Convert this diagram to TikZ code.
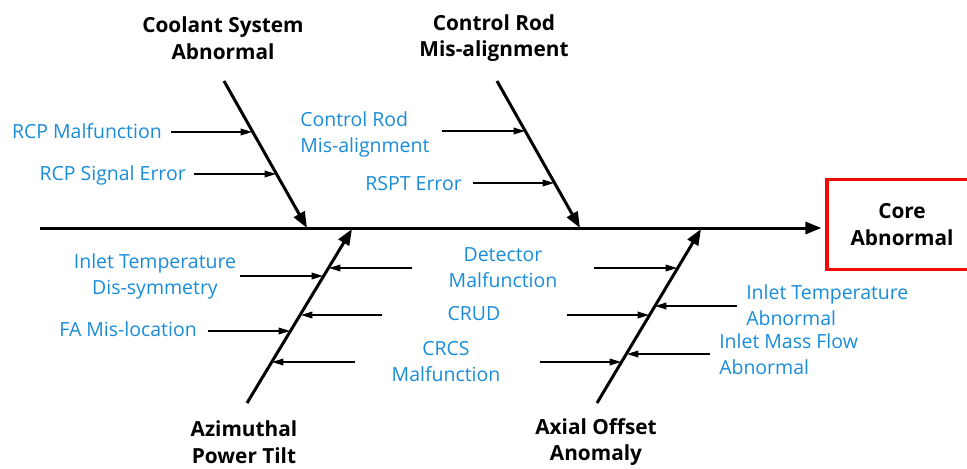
\documentclass[tikz,border=0pt]{standalone}
\usepackage{fontspec}
\setmainfont{Open Sans}
\usetikzlibrary{arrows.meta}
\definecolor{causeblue}{RGB}{24,140,218}
\definecolor{boxred}{RGB}{240,10,10}
\begin{document}
\begin{tikzpicture}[x=0.75pt,y=-0.75pt,
  bone/.style={line width=2.25pt,-{Triangle[length=12pt,width=9pt]}},
  spine/.style={line width=2.25pt,-{Triangle[length=12pt,width=9pt]}},
  twig/.style={line width=1pt,-{Triangle[length=8.5pt,width=5pt]}},
  cause/.style={text=causeblue,font=\fontsize{14.6}{19.5}\selectfont,inner sep=0pt},
  title/.style={font=\bfseries\fontsize{15.6}{20}\selectfont,inner sep=0pt,align=center},
  effect/.style={draw=boxred,line width=2.4pt,minimum width=112.5pt,minimum height=68pt,
    font=\bfseries\fontsize{15.6}{20}\selectfont,align=center,inner sep=0pt}]
\useasboundingbox (0,0) rectangle (967,468);
% effect box
\node[effect] (core) at (902,224.5) {Core\\Abnormal};
% spine
\coordinate (s0) at (40,228);
\draw[spine,shorten >=3pt] (s0) -- (core.west |- s0);
% bones
\coordinate (b1s) at (224,81);  \coordinate (b1e) at (307,228);
\coordinate (b2s) at (497,81);  \coordinate (b2e) at (580,228);
\coordinate (b3s) at (247,403); \coordinate (b3e) at (352,229);
\coordinate (b4s) at (597,403); \coordinate (b4e) at (701,229);
\draw[bone] (b1s) -- (b1e);
\draw[bone] (b2s) -- (b2e);
\draw[bone] (b3s) -- (b3e);
\draw[bone] (b4s) -- (b4e);
% titles
\node[title] (t1) at (223,38) {Coolant System\\Abnormal};
\node[title] (t2) at (494,38) {Control Rod\\Mis-alignment};
\node[title] (t3) at (244,442) {Azimuthal\\Power Tilt};
\node[title] (t4) at (596,442) {Axial Offset\\Anomaly};
% causes, bone 1
\node[cause,anchor=east] (c11) at (162,131) {RCP Malfunction};
\node[cause,anchor=east] (c12) at (186,175) {RCP Signal Error};
\coordinate (a11s) at (171,132); \coordinate (a11e) at (252,132);
\coordinate (a12s) at (194,174); \coordinate (a12e) at (276,174);
\draw[twig] (a11s) -- (a11e);
\draw[twig] (a12s) -- (a12e);
% causes, bone 2
\node[cause,anchor=west,align=left] (c21) at (300,134) {Control Rod\\Mis-alignment};
\node[cause,anchor=east] (c22) at (462,184) {RSPT Error};
\coordinate (a21s) at (442,131); \coordinate (a21e) at (525,131);
\coordinate (a22s) at (473,183); \coordinate (a22e) at (554,183);
\draw[twig] (a21s) -- (a21e);
\draw[twig] (a22s) -- (a22e);
% causes, bone 3
\node[cause,align=center] (c31) at (155,276) {Inlet Temperature\\Dis-symmetry};
\node[cause,anchor=east] (c32) at (197,329) {FA Mis-location};
\coordinate (a31s) at (240,276); \coordinate (a31e) at (323,276);
\coordinate (a32s) at (208,331); \coordinate (a32e) at (290,331);
\draw[twig] (a31s) -- (a31e);
\draw[twig] (a32s) -- (a32e);
\coordinate (a33s) at (412,268); \coordinate (a33e) at (329,268);
\coordinate (a34s) at (382,315); \coordinate (a34e) at (301,315);
\coordinate (a35s) at (355,362); \coordinate (a35e) at (272,362);
\draw[twig] (a33s) -- (a33e);
\draw[twig] (a34s) -- (a34e);
\draw[twig] (a35s) -- (a35e);
% middle causes
\node[cause,align=center] (c41) at (503,268) {Detector\\Malfunction};
\node[cause] (c42) at (474,314) {CRUD};
\node[cause,align=center] (c43) at (446,362) {CRCS\\Malfunction};
% causes, bone 4
\coordinate (a41s) at (594,268); \coordinate (a41e) at (677,268);
\coordinate (a42s) at (567,315); \coordinate (a42e) at (649,315);
\coordinate (a43s) at (540,362); \coordinate (a43e) at (621,362);
\draw[twig] (a41s) -- (a41e);
\draw[twig] (a42s) -- (a42e);
\draw[twig] (a43s) -- (a43e);
\node[cause,anchor=west,align=left] (c44) at (746,305.5) {Inlet Temperature\\Abnormal};
\node[cause,anchor=west,align=left] (c45) at (719,354) {Inlet Mass Flow\\Abnormal};
\coordinate (a44s) at (737,306); \coordinate (a44e) at (655,306);
\coordinate (a45s) at (710,354); \coordinate (a45e) at (627,354);
\draw[twig] (a44s) -- (a44e);
\draw[twig] (a45s) -- (a45e);
\end{tikzpicture}
\end{document}
